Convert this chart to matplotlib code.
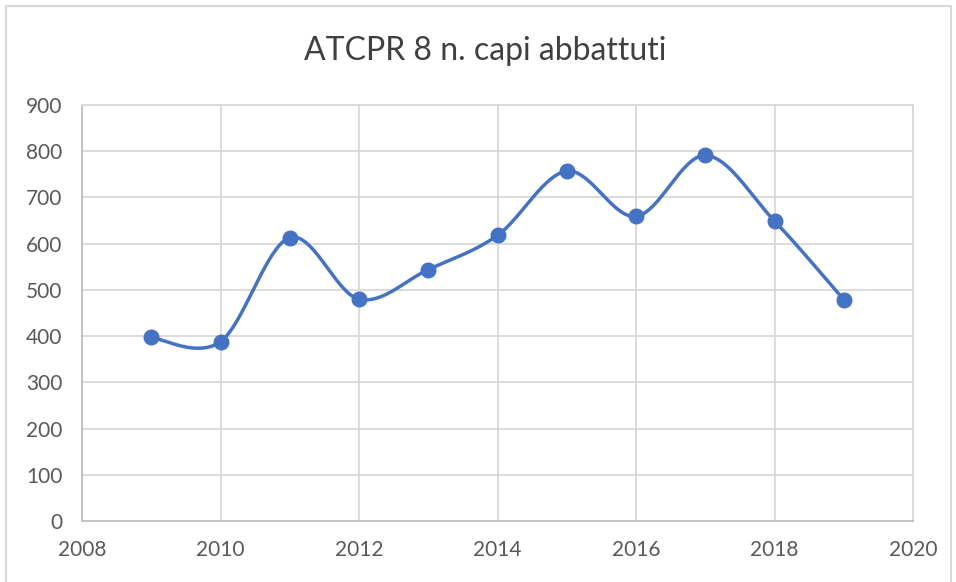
import numpy as np
import matplotlib
matplotlib.use("Agg")
import matplotlib.pyplot as plt
from matplotlib.patches import Rectangle

plt.rcParams['font.family'] = ['Lato', 'DejaVu Sans']

years = [2009, 2010, 2011, 2012, 2013, 2014, 2015, 2016, 2017, 2018, 2019]
capi = [397, 388, 613, 480, 544, 618, 757, 659, 791, 649, 479]
title = "ATCPR 8 n. capi abbattuti"
xticks = [2008, 2010, 2012, 2014, 2016, 2018, 2020]
yticks = [0, 100, 200, 300, 400, 500, 600, 700, 800, 900]

BLUE = "#4472C4"
GRID = "#D9D9D9"
TXT = "#595959"


def smooth(xs, ys, n=40):
    """Excel-like smoothing (Catmull-Rom style cubic Bezier)."""
    P = np.column_stack([xs, ys]).astype(float)
    out = []
    m = len(P)
    for i in range(m - 1):
        p0 = P[i - 1] if i > 0 else P[i]
        p1 = P[i]
        p2 = P[i + 1]
        p3 = P[i + 2] if i + 2 < m else P[i + 1]
        c1 = p1 + (p2 - p0) / 6.0
        c2 = p2 - (p3 - p1) / 6.0
        t = np.linspace(0, 1, n)[:, None]
        seg = ((1 - t) ** 3) * p1 + 3 * ((1 - t) ** 2) * t * c1 + 3 * (1 - t) * t ** 2 * c2 + t ** 3 * p2
        out.append(seg if i == 0 else seg[1:])
    out = np.vstack(out)
    return out[:, 0], out[:, 1]


fig = plt.figure(figsize=(9.56, 5.82), dpi=100)
ax = fig.add_axes([82 / 956, 1 - 521 / 582, (913 - 82) / 956, (521 - 105) / 582])

sx, sy = smooth(years, capi)
ax.plot(sx, sy, color=BLUE, lw=2.5, solid_capstyle='round', zorder=3)
ax.plot(years, capi, 'o', color=BLUE, ms=10.5, zorder=4)

ax.set_xlim(2008, 2020)
ax.set_ylim(0, 900)
ax.set_xticks(xticks)
ax.set_yticks(yticks)
ax.grid(True, color=GRID, lw=1.3, zorder=0)
ax.tick_params(length=0, labelsize=15, colors=TXT)
ax.tick_params(axis='x', pad=14)
ax.tick_params(axis='y', pad=14)
for s in ['top', 'right']:
    ax.spines[s].set_color(GRID)
    ax.spines[s].set_linewidth(1.3)
for s in ['left', 'bottom']:
    ax.spines[s].set_color("#BFBFBF")
    ax.spines[s].set_linewidth(1.3)

fig.text(485.5 / 956, 1 - 51 / 582, title, ha='center', va='center', fontsize=23, color="#404040")

fig.patches.append(Rectangle((6 / 956, -0.1), 945 / 956, 1.1 - 6 / 582, transform=fig.transFigure,
                             fill=False, edgecolor=GRID, lw=1.5))

fig.savefig("out.png", dpi=100)
